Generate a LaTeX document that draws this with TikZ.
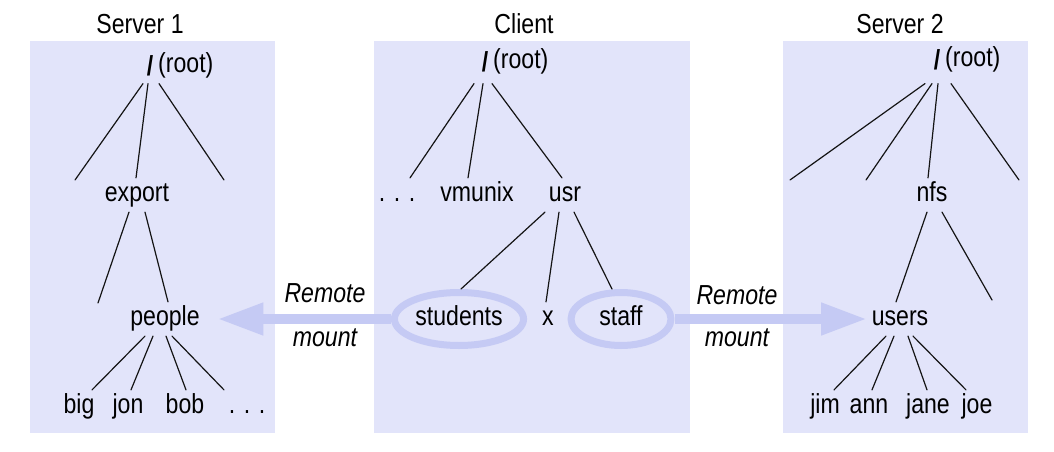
\documentclass[tikz,border=0pt]{standalone}
\usepackage{fontspec}
\setmainfont[FakeStretch=0.84]{Liberation Sans}
\usetikzlibrary{positioning,shapes.geometric,arrows.meta}
\definecolor{boxfill}{RGB}{226,228,250}
\definecolor{mountblue}{RGB}{197,202,244}
\definecolor{ink}{RGB}{20,20,20}
\begin{document}
\begin{tikzpicture}[x=1pt, y=-1pt, font=\fontsize{27.5}{32}\selectfont, line join=round, line cap=round, line width=1.2pt, draw=ink,
	tree/.style={inner sep=4pt, text height=19pt, text depth=6pt},
	rootslash/.style={inner sep=0pt, minimum width=12pt, font=\fontsize{27.5}{32}\selectfont\bfseries},
	ring/.style={tree, inner sep=2pt, ellipse, draw=mountblue, line width=7pt, minimum height=53pt},
	mountarrow/.style={draw=mountblue, line width=10pt, line cap=butt, -{Triangle[length=46pt,width=30pt]}},
	note/.style={font=\fontsize{27.5}{32}\selectfont\itshape}]
	\useasboundingbox (0,0) rectangle (1054,452);
	% the three machines
	\fill[boxfill] (30,41) rectangle (275,433);
	\fill[boxfill] (374,41) rectangle (690,433);
	\fill[boxfill] (783,41) rectangle (1028,433);
	\node[tree] (s1title) at (140,27) {Server 1};
	\node[tree] (ctitle) at (524,27) {Client};
	\node[tree] (s2title) at (900,27) {Server 2};
	% Server 1
	\node[rootslash, minimum height=34pt] (s1root) at (150,66) {/};
	\node[tree, right=-3pt of s1root] (s1rootlbl) {(root)};
	\coordinate (s1a) at (75,180);
	\coordinate (s1c) at (224,180);
	\coordinate (s1d) at (98,303);
	\node[tree] (export) at (137,195) {export};
	\node[tree] (people) at (165,319) {people};
	\node[tree] (big) at (79,407) {big};
	\node[tree] (jon) at (128,407) {jon};
	\node[tree] (bob) at (185,407) {bob};
	\node[tree] (s1dots) at (247,407) {. . .};
	\draw ([xshift=-7pt]s1root.south) -- (s1a);
	\draw ([xshift=-2pt]s1root.south) -- ([xshift=-1pt]export.north);
	\draw ([xshift=9pt]s1root.south) -- (s1c);
	\draw ([xshift=-8pt]export.south) -- (s1d);
	\draw ([xshift=8pt]export.south) -- ([xshift=3pt]people.north);
	\foreach \n/\a/\b in {big/-20/13, jon/-12/3, bob/1/1, s1dots/7/-23}
		\draw ([xshift=\a pt]people.south) -- ([xshift=\b pt]\n.north);
	% Client
	\node[rootslash, minimum height=42pt] (croot) at (485,62) {/};
	\node[tree, right=-3pt of croot] (crootlbl) {(root)};
	\node[tree] (cdots) at (397,195) {. . .};
	\node[tree] (vmunix) at (477,195) {vmunix};
	\node[tree] (usr) at (565,195) {usr};
	\node[ring] (students) at (459,319) {students};
	\node[tree] (xdir) at (548,319) {x};
	\node[ring, minimum width=100pt] (staff) at (621,319) {staff};
	\draw ([xshift=-11pt]croot.south) -- ([xshift=13pt]cdots.north);
	\draw ([xshift=-2pt]croot.south) -- ([xshift=-9pt]vmunix.north);
	\draw ([xshift=7pt]croot.south) -- ([xshift=-3pt]usr.north);
	\draw ([xshift=-20pt]usr.south) -- ([xshift=2pt]students.north);
	\draw ([xshift=-6pt]usr.south) -- ([xshift=-2pt]xdir.north);
	\draw ([xshift=9pt]usr.south) -- ([xshift=-9pt]staff.north);
	% Server 2
	\node[rootslash, minimum height=46pt] (s2root) at (937,60) {/};
	\node[tree, right=-3pt of s2root] (s2rootlbl) {(root)};
	\coordinate (s2a) at (790,180);
	\coordinate (s2b) at (866,180);
	\coordinate (s2d) at (1019,180);
	\coordinate (s2e) at (992,300);
	\node[tree] (nfs) at (932,195) {nfs};
	\node[tree] (users) at (900,319) {users};
	\node[tree] (jim) at (825,407) {jim};
	\node[tree] (ann) at (869,407) {ann};
	\node[tree] (jane) at (928,407) {jane};
	\node[tree] (joe) at (977,407) {joe};
	\draw ([xshift=-12pt]s2root.south) -- (s2a);
	\draw ([xshift=-5pt]s2root.south) -- (s2b);
	\draw ([xshift=1pt]s2root.south) -- ([xshift=-4pt]nfs.north);
	\draw ([xshift=14pt]s2root.south) -- (s2d);
	\draw ([xshift=-5pt]nfs.south) -- ([xshift=-4pt]users.north);
	\draw ([xshift=10pt]nfs.south) -- (s2e);
	\foreach \n/\a/\b in {jim/-14/9, ann/-6/3, jane/8/-1, joe/13/-11}
		\draw ([xshift=\a pt]users.south) -- ([xshift=\b pt]\n.north);
	% remote mounts
	\draw[mountarrow, shorten >=13pt] (students) -- (people);
	\draw[mountarrow] (staff) -- (users);
	\node[note] (lremote) at (325,293) {Remote};
	\node[note] (lmount) at (325,338) {mount};
	\node[note] (rremote) at (737,295) {Remote};
	\node[note] (rmount) at (737,338) {mount};
\end{tikzpicture}
\end{document}
